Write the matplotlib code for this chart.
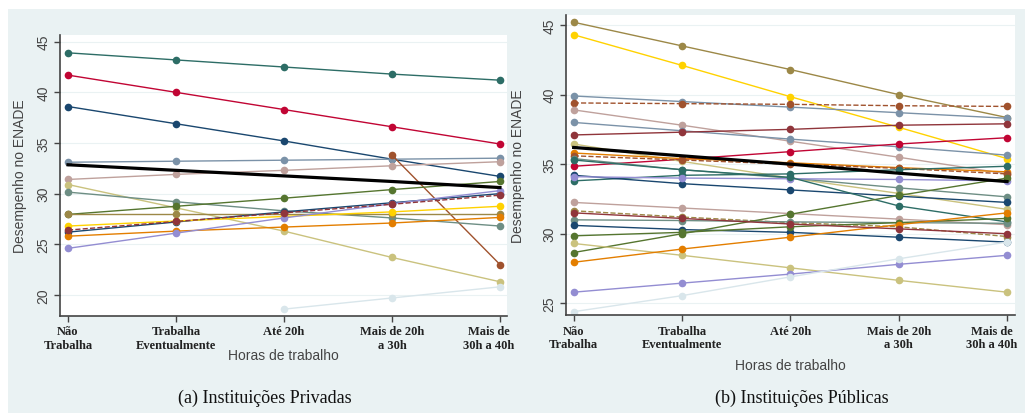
import numpy as np
import matplotlib
matplotlib.use("Agg")
import matplotlib.pyplot as plt
from matplotlib.transforms import ScaledTranslation

nan = np.nan

categories = ["Não\nTrabalha", "Trabalha\nEventualmente", "Até 20h",
              "Mais de 20h\na 30h", "Mais de\n30h a 40h"]

# Stata s2color palette
navy = "#1a476f"; maroon = "#90353b"; forest = "#55752f"; dkorange = "#e37e00"
teal = "#6e8e84"; cranberry = "#c10534"; lavender = "#938dd2"; khaki = "#cac27e"
sienna = "#a0522d"; emidblue = "#7b92a8"; emerald = "#2d6d66"; brown = "#9c8847"
erose = "#bfa19c"; gold = "#ffd200"; bluishgray = "#d9e6eb"

# (a) Instituições Privadas: one line per institution
priv_emerald = [43.9, 43.2, 42.5, 41.8, 41.2]
priv_cranberry = [41.7, 40.0, 38.3, 36.6, 34.9]
priv_navy = [38.6, 36.9, 35.2, 33.4, 31.7]
priv_emidblue = [33.1, 33.2, 33.3, 33.4, 33.5]
priv_erose = [31.4, 31.9, 32.3, 32.75, 33.15]
priv_sienna = [nan, nan, nan, 33.8, 23.0]
priv_khaki = [30.9, 28.6, 26.3, 23.7, 21.3]
priv_teal = [30.15, 29.2, 28.3, 27.6, 26.8]
priv_forest = [27.95, 28.75, 29.55, 30.4, 31.2]
priv_brown = [28.0, 28.0, 28.0, 28.0, 28.0]
priv_navy2 = [26.2, 27.2, 28.2, 29.1, 30.0]
priv_gold = [26.8, 27.3, 27.75, 28.2, 28.75]
priv_dkorange = [25.8, 26.3, 26.7, 27.1, 27.65]
priv_lavender = [24.6, 26.1, 27.6, 29.0, 30.3]
priv_maroon = [26.4, 27.25, 28.1, 28.95, 29.85]
priv_bluishgray = [nan, nan, 18.6, 19.7, 20.8]
priv_mean = [32.85, 32.3, 31.75, 31.2, 30.6]

# (b) Instituições Públicas
pub_brown = [45.2, 43.5, 41.8, 40.0, 38.35]
pub_gold = [44.3, 42.1, 39.85, 37.65, 35.4]
pub_emidblue = [39.9, 39.5, 39.1, 38.7, 38.3]
pub_sienna = [39.4, 39.35, 39.3, 39.2, 39.15]
pub_erose = [38.9, 37.8, 36.65, 35.5, 34.3]
pub_emidblue2 = [38.0, 37.4, 36.8, 36.25, 35.65]
pub_maroon = [37.1, 37.3, 37.5, 37.8, 37.9]
pub_cranberry = [34.85, 35.35, 35.9, 36.45, 36.9]
pub_khaki = [36.45, 35.2, 34.0, 32.9, 31.75]
pub_dkorange = [35.8, 35.4, 35.1, 34.75, 34.45]
pub_brown2 = [35.6, 35.3, 35.0, 34.7, 34.3]
pub_teal = [35.4, 34.6, 34.0, 33.3, 32.65]
pub_emerald = [33.8, 34.2, 34.3, 34.6, 34.85]
pub_navy = [34.2, 33.6, 33.15, 32.7, 32.25]
pub_lavender = [34.1, 34.0, 33.95, 33.9, 33.8]
pub_emerald2 = [35.3, 34.6, 34.05, 32.0, 30.85]
pub_erose2 = [32.25, 31.85, 31.45, 31.05, 30.65]
pub_brown3 = [31.65, 31.2, 30.8, 30.5, 29.8]
pub_teal2 = [31.0, 30.95, 30.85, 30.8, 30.75]
pub_navy2 = [30.6, 30.3, 30.1, 29.75, 29.4]
pub_forest = [29.85, 30.1, 30.5, 30.8, 31.1]
pub_forest2 = [28.65, 30.0, 31.4, 32.75, 34.0]
pub_khaki2 = [29.3, 28.45, 27.55, 26.65, 25.8]
pub_dkorange2 = [27.95, 28.9, 29.75, 30.65, 31.5]
pub_lavender2 = [25.8, 26.45, 27.1, 27.8, 28.45]
pub_bluishgray = [24.4, 25.55, 26.9, 28.2, 29.4]
pub_maroon2 = [31.5, 31.1, 30.7, 30.35, 30.0]
pub_mean = [36.2, 35.6, 35.0, 34.35, 33.75]

priv_series = [
    (priv_emerald, emerald, "-"), (priv_cranberry, cranberry, "-"),
    (priv_navy, navy, "-"), (priv_emidblue, emidblue, "-"),
    (priv_erose, erose, "-"), (priv_sienna, sienna, "-"),
    (priv_khaki, khaki, "-"), (priv_teal, teal, "-"),
    (priv_forest, forest, "-"), (priv_brown, brown, "-"),
    (priv_navy2, navy, "-"), (priv_gold, gold, "-"),
    (priv_dkorange, dkorange, "-"), (priv_lavender, lavender, "-"),
    (priv_maroon, maroon, "--"), (priv_bluishgray, bluishgray, "-"),
]
pub_series = [
    (pub_brown, brown, "-"), (pub_gold, gold, "-"),
    (pub_emidblue, emidblue, "-"), (pub_sienna, sienna, "--"),
    (pub_erose, erose, "-"), (pub_emidblue2, emidblue, "-"),
    (pub_maroon, maroon, "-"), (pub_cranberry, cranberry, "-"),
    (pub_khaki, khaki, "-"), (pub_dkorange, dkorange, "-"),
    (pub_brown2, sienna, "--"), (pub_teal, teal, "-"),
    (pub_emerald, emerald, "-"), (pub_navy, navy, "-"),
    (pub_lavender, lavender, "-"), (pub_emerald2, emerald, "-"),
    (pub_erose2, erose, "-"), (pub_brown3, brown, "--"),
    (pub_teal2, teal, "-"), (pub_navy2, navy, "-"),
    (pub_forest, forest, "-"), (pub_forest2, forest, "-"),
    (pub_khaki2, khaki, "-"), (pub_dkorange2, dkorange, "-"),
    (pub_lavender2, lavender, "-"), (pub_bluishgray, bluishgray, "-"),
    (pub_maroon2, maroon, "-"),
]

BG = "#eaf2f3"
W, H = 1025, 414
SANS = "Liberation Sans"
SERIF = "Liberation Serif"

fig = plt.figure(figsize=(W / 100, H / 100), dpi=100)
fig.patch.set_facecolor("white")
fig.add_artist(plt.Rectangle((8 / W, 0), 1 - 8 / W, 1 - 10 / H,
                             transform=fig.transFigure, facecolor=BG,
                             edgecolor="none", zorder=0))


def panel(rect, series, mean, ylim, yticks, xlim, ylab_x, xlab_y, last_shift):
    ax = fig.add_axes(rect)
    ax.set_facecolor("white")
    x = np.arange(len(categories))
    for ax_y in yticks:
        ax.axhline(ax_y, color=BG, lw=0.8, zorder=0)
    for vals, col, ls in series:
        ax.plot(x, vals, color=col, ls=ls, lw=1.0, marker="o", ms=5.5,
                markeredgewidth=0, zorder=2)
    ax.plot(x, mean, color="black", lw=2.3, zorder=3)
    ax.set_xlim(*xlim)
    ax.set_ylim(*ylim)
    ax.set_yticks(yticks)
    ax.set_yticklabels([str(t) for t in yticks], family=SANS, fontsize=10,
                       color="#444444", rotation=90, va="center")
    ax.set_xticks(x)
    ax.set_xticklabels(categories, family=SERIF, fontweight="bold",
                       fontsize=9, color="#222222", linespacing=1.15)
    ax.tick_params(axis="y", length=4, width=1, colors="#444444", pad=3)
    ax.tick_params(axis="x", length=4, width=1, colors="#444444", pad=3)
    for lbl in ax.get_xticklabels():
        lbl.set_color("#222222")
    for lbl in ax.get_yticklabels():
        lbl.set_color("#444444")
    lbl = ax.get_xticklabels()[-1]
    lbl.set_transform(lbl.get_transform() + ScaledTranslation(last_shift / 100, 0, fig.dpi_scale_trans))
    for s in ["top", "right"]:
        ax.spines[s].set_visible(False)
    for s in ["left", "bottom"]:
        ax.spines[s].set_color("#444444")
        ax.spines[s].set_linewidth(1.2)
    ax.set_ylabel("Desempenho no ENADE", family=SANS, fontsize=10, color="#444444")
    ax.yaxis.set_label_coords(ylab_x, 0.5)
    ax.set_xlabel("Horas de trabalho", family=SANS, fontsize=10, color="#444444")
    ax.xaxis.set_label_coords(0.5, xlab_y)
    ax.xaxis.label.set_va("center")
    return ax


# left axes: x 60-507 px, y 36-316.7 px
panel([60 / W, 1 - 316.7 / H, 447 / W, 280.7 / H], priv_series, priv_mean,
      (17.95, 45.66), [20, 25, 30, 35, 40, 45], (-0.074, 4.065),
      -0.074, -0.14, -11)
# right axes: x 566-1015 px, y 16-316 px
panel([566.3 / W, 1 - 316 / H, 448.4 / W, 300 / H], pub_series, pub_mean,
      (24.16, 45.72), [25, 30, 35, 40, 45], (-0.068, 4.071),
      -0.092, -0.167, -15)

fig.text(265 / W, 1 - 398 / H, "(a) Instituições Privadas", family=SERIF,
         fontsize=13, ha="center", va="center", color="#111111")
fig.text(802 / W, 1 - 398 / H, "(b) Instituições Públicas", family=SERIF,
         fontsize=13, ha="center", va="center", color="#111111")

fig.savefig("out.png", dpi=100, facecolor=fig.get_facecolor())
